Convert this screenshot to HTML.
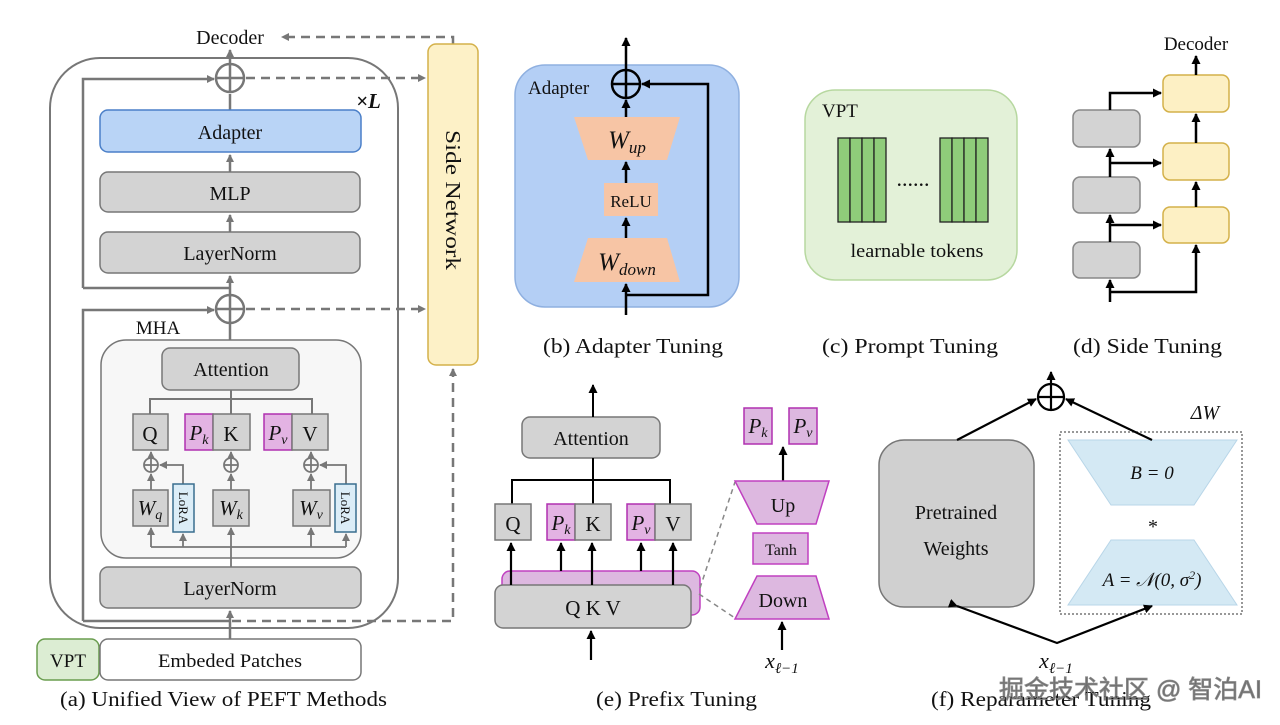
<!DOCTYPE html>
<html><head><meta charset="utf-8"><style>
html,body{margin:0;padding:0;background:#fff;}
svg{display:block;}
text{font-family:"Liberation Serif",serif;fill:#111;}
.i{font-style:italic;}
</style></head><body>
<svg width="1280" height="725" viewBox="0 0 1280 725" xmlns="http://www.w3.org/2000/svg">
<defs>
<marker id="ag" markerWidth="8" markerHeight="8" refX="7" refY="4" orient="auto" markerUnits="userSpaceOnUse"><path d="M0,0 L8,4 L0,8 z" fill="#777"/></marker>
<marker id="ab" markerWidth="9" markerHeight="9" refX="8" refY="4.5" orient="auto" markerUnits="userSpaceOnUse"><path d="M0,0 L9,4.5 L0,9 z" fill="#000"/></marker>
</defs>

<!-- ===== Panel (a) ===== -->
<g stroke="#777" stroke-width="2" fill="none">
<rect x="50" y="58" width="348" height="570" rx="50"/>
</g>
<text x="230" y="44" font-size="20" text-anchor="middle">Decoder</text>
<g stroke="#777" stroke-width="2.5" fill="none">
<line x1="230" y1="64" x2="230" y2="50" marker-end="url(#ag)"/>
<circle cx="230" cy="78" r="14"/><line x1="216" y1="78" x2="244" y2="78"/><line x1="230" y1="64" x2="230" y2="92"/>
<polyline points="83,288 83,79 214,79" marker-end="url(#ag)"/>
<polyline points="230,288 83,288"/>
<line x1="230" y1="110" x2="230" y2="94"/>
<line x1="230" y1="172" x2="230" y2="155" marker-end="url(#ag)"/>
<line x1="230" y1="232" x2="230" y2="215" marker-end="url(#ag)"/>
<line x1="230" y1="295" x2="230" y2="276" marker-end="url(#ag)"/>
<circle cx="230" cy="309" r="14"/><line x1="216" y1="309" x2="244" y2="309"/><line x1="230" y1="295" x2="230" y2="323"/>
<polyline points="83,621 83,310 214,310" marker-end="url(#ag)"/>
<polyline points="230,621 83,621"/>
<line x1="230" y1="340" x2="230" y2="323"/>
<line x1="230" y1="639" x2="230" y2="611" marker-end="url(#ag)"/>
</g>
<g stroke="#777" stroke-width="2.5" fill="none" stroke-dasharray="9,6">
<polyline points="453,44 453,37 282,37" marker-end="url(#ag)"/>
<line x1="246" y1="78" x2="425" y2="78" marker-end="url(#ag)"/>
<line x1="246" y1="309" x2="425" y2="309" marker-end="url(#ag)"/>
<polyline points="232,621 453,621 453,369" marker-end="url(#ag)"/>
</g>
<text x="356" y="108" font-size="21" font-weight="bold" class="i">×L</text>
<rect x="100" y="110" width="261" height="42" rx="8" fill="#b9d4f6" stroke="#4a7fc8" stroke-width="1.5"/>
<text x="230" y="139" font-size="20" text-anchor="middle">Adapter</text>
<rect x="100" y="172" width="260" height="40" rx="8" fill="#d3d3d3" stroke="#777" stroke-width="1.5"/>
<text x="230" y="200" font-size="20" text-anchor="middle">MLP</text>
<rect x="100" y="232" width="260" height="41" rx="8" fill="#d3d3d3" stroke="#777" stroke-width="1.5"/>
<text x="230" y="260" font-size="20" text-anchor="middle">LayerNorm</text>
<text x="158" y="334" font-size="19" text-anchor="middle">MHA</text>
<rect x="101" y="340" width="260" height="218" rx="25" fill="#f7f7f7" stroke="#777" stroke-width="1.5"/>
<rect x="162" y="348" width="137" height="42" rx="8" fill="#d3d3d3" stroke="#777" stroke-width="1.5"/>
<text x="231" y="376" font-size="20" text-anchor="middle">Attention</text>
<g stroke="#777" stroke-width="2" fill="none">
<line x1="231" y1="390" x2="231" y2="414"/>
<polyline points="150,414 150,399 312,399 312,414"/>
</g>
<g stroke="#777" stroke-width="1.5">
<rect x="133" y="414" width="35" height="36" fill="#d3d3d3"/>
<rect x="185" y="414" width="28" height="36" fill="#e3b3e3" stroke="#b030b0"/>
<rect x="213" y="414" width="37" height="36" fill="#d3d3d3"/>
<rect x="264" y="414" width="28" height="36" fill="#e3b3e3" stroke="#b030b0"/>
<rect x="292" y="414" width="36" height="36" fill="#d3d3d3"/>
</g>
<text x="150" y="441" font-size="21" text-anchor="middle">Q</text>
<text x="199" y="440" font-size="21" text-anchor="middle" class="i">P<tspan font-size="14" dy="4">k</tspan></text>
<text x="231" y="441" font-size="21" text-anchor="middle">K</text>
<text x="278" y="440" font-size="21" text-anchor="middle" class="i">P<tspan font-size="14" dy="4">v</tspan></text>
<text x="310" y="441" font-size="21" text-anchor="middle">V</text>
<g stroke="#777" stroke-width="1.8" fill="none">
<circle cx="151" cy="465" r="7"/><line x1="144" y1="465" x2="158" y2="465"/><line x1="151" y1="458" x2="151" y2="472"/>
<circle cx="231" cy="465" r="7"/><line x1="224" y1="465" x2="238" y2="465"/><line x1="231" y1="458" x2="231" y2="472"/>
<circle cx="311" cy="465" r="7"/><line x1="304" y1="465" x2="318" y2="465"/><line x1="311" y1="458" x2="311" y2="472"/>
<line x1="151" y1="458" x2="151" y2="452" marker-end="url(#ag)"/>
<line x1="231" y1="458" x2="231" y2="452" marker-end="url(#ag)"/>
<line x1="311" y1="458" x2="311" y2="452" marker-end="url(#ag)"/>
<line x1="151" y1="490" x2="151" y2="474" marker-end="url(#ag)"/>
<line x1="231" y1="490" x2="231" y2="474" marker-end="url(#ag)"/>
<line x1="311" y1="490" x2="311" y2="474" marker-end="url(#ag)"/>
<polyline points="183,484 183,465 160,465" marker-end="url(#ag)"/>
<polyline points="346,484 346,465 320,465" marker-end="url(#ag)"/>
<line x1="151" y1="547" x2="346" y2="547"/>
<line x1="231" y1="567" x2="231" y2="528" marker-end="url(#ag)"/>
<line x1="151" y1="547" x2="151" y2="528" marker-end="url(#ag)"/>
<line x1="183" y1="547" x2="183" y2="534" marker-end="url(#ag)"/>
<line x1="311" y1="547" x2="311" y2="528" marker-end="url(#ag)"/>
<line x1="346" y1="547" x2="346" y2="534" marker-end="url(#ag)"/>
</g>
<g stroke="#777" stroke-width="1.5">
<rect x="133" y="490" width="35" height="36" fill="#d3d3d3"/>
<rect x="213" y="490" width="36" height="36" fill="#d3d3d3"/>
<rect x="293" y="490" width="37" height="36" fill="#d3d3d3"/>
<rect x="173" y="484" width="21" height="48" fill="#dcedf7" stroke="#3a6f8f"/>
<rect x="335" y="484" width="21" height="48" fill="#dcedf7" stroke="#3a6f8f"/>
</g>
<text x="150" y="515" font-size="21" text-anchor="middle" class="i">W<tspan font-size="14" dy="4">q</tspan></text>
<text x="231" y="515" font-size="21" text-anchor="middle" class="i">W<tspan font-size="14" dy="4">k</tspan></text>
<text x="311" y="515" font-size="21" text-anchor="middle" class="i">W<tspan font-size="14" dy="4">v</tspan></text>
<text transform="translate(179,508) rotate(90)" font-size="13" text-anchor="middle">LoRA</text>
<text transform="translate(341,508) rotate(90)" font-size="13" text-anchor="middle">LoRA</text>
<rect x="100" y="567" width="261" height="41" rx="8" fill="#d3d3d3" stroke="#777" stroke-width="1.5"/>
<text x="230" y="595" font-size="20" text-anchor="middle">LayerNorm</text>
<rect x="37" y="639" width="62" height="41" rx="8" fill="#dcedd3" stroke="#6a9d4f" stroke-width="1.5"/>
<text x="68" y="667" font-size="19" text-anchor="middle">VPT</text>
<rect x="100" y="639" width="261" height="41" rx="8" fill="#fff" stroke="#777" stroke-width="1.5"/>
<text x="230" y="667" font-size="19" text-anchor="middle" textLength="144" lengthAdjust="spacingAndGlyphs">Embeded Patches</text>
<text x="60" y="706" font-size="21" textLength="327" lengthAdjust="spacingAndGlyphs">(a)  Unified View of PEFT Methods</text>

<!-- Side Network -->
<rect x="428" y="44" width="50" height="321" rx="8" fill="#fdf1c7" stroke="#d4b14a" stroke-width="1.5"/>
<text transform="translate(446,200) rotate(90)" font-size="21" text-anchor="middle" textLength="140" lengthAdjust="spacingAndGlyphs">Side Network</text>

<!-- ===== Panel (b) ===== -->
<rect x="515" y="65" width="224" height="242" rx="30" fill="#b4cff5" stroke="#8fb0e0" stroke-width="1.5"/>
<text x="528" y="94" font-size="19">Adapter</text>
<g stroke="#000" stroke-width="2.5" fill="none">
<line x1="626" y1="70" x2="626" y2="38" marker-end="url(#ab)"/>
<circle cx="626" cy="84" r="14"/><line x1="612" y1="84" x2="640" y2="84"/><line x1="626" y1="70" x2="626" y2="98"/>
<line x1="626" y1="117" x2="626" y2="100" marker-end="url(#ab)"/>
<line x1="626" y1="183" x2="626" y2="162" marker-end="url(#ab)"/>
<line x1="626" y1="238" x2="626" y2="218" marker-end="url(#ab)"/>
<line x1="626" y1="315" x2="626" y2="284" marker-end="url(#ab)"/>
<polyline points="626,295 708,295 708,84 642,84" marker-end="url(#ab)"/>
</g>
<polygon points="574,117 680,117 667,160 588,160" fill="#f7c5a5"/>
<rect x="604" y="183" width="54" height="33" fill="#f7c5a5"/>
<polygon points="588,238 667,238 680,282 574,282" fill="#f7c5a5"/>
<text x="627" y="148" font-size="25" text-anchor="middle" class="i">W<tspan font-size="17" dy="5">up</tspan></text>
<text x="631" y="207" font-size="17" text-anchor="middle">ReLU</text>
<text x="627" y="270" font-size="25" text-anchor="middle" class="i">W<tspan font-size="17" dy="5">down</tspan></text>
<text x="543" y="353" font-size="21" textLength="180" lengthAdjust="spacingAndGlyphs">(b)  Adapter Tuning</text>

<!-- ===== Panel (c) ===== -->
<rect x="805" y="90" width="212" height="190" rx="30" fill="#e3f1d8" stroke="#b7d8a0" stroke-width="1.5"/>
<text x="822" y="117" font-size="19">VPT</text>
<g fill="#8fcc7a" stroke="#222" stroke-width="1.3">
<rect x="838" y="138" width="12" height="84"/><rect x="850" y="138" width="12" height="84"/><rect x="862" y="138" width="12" height="84"/><rect x="874" y="138" width="12" height="84"/>
<rect x="940" y="138" width="12" height="84"/><rect x="952" y="138" width="12" height="84"/><rect x="964" y="138" width="12" height="84"/><rect x="976" y="138" width="12" height="84"/>
</g>
<text x="913" y="186" font-size="22" text-anchor="middle">......</text>
<text x="917" y="257" font-size="19" text-anchor="middle" textLength="133" lengthAdjust="spacingAndGlyphs">learnable tokens</text>
<text x="822" y="353" font-size="21" textLength="176" lengthAdjust="spacingAndGlyphs">(c)  Prompt Tuning</text>

<!-- ===== Panel (d) ===== -->
<text x="1196" y="50" font-size="19" text-anchor="middle">Decoder</text>
<g fill="#d3d3d3" stroke="#888" stroke-width="1.5">
<rect x="1073" y="110" width="67" height="37" rx="7"/>
<rect x="1073" y="177" width="67" height="36" rx="7"/>
<rect x="1073" y="242" width="67" height="36" rx="7"/>
</g>
<g fill="#fdf0c4" stroke="#d4b14a" stroke-width="1.5">
<rect x="1163" y="75" width="66" height="37" rx="7"/>
<rect x="1163" y="143" width="66" height="37" rx="7"/>
<rect x="1163" y="207" width="66" height="36" rx="7"/>
</g>
<g stroke="#000" stroke-width="2.5" fill="none">
<line x1="1196" y1="75" x2="1196" y2="56" marker-end="url(#ab)"/>
<line x1="1196" y1="143" x2="1196" y2="114" marker-end="url(#ab)"/>
<line x1="1196" y1="207" x2="1196" y2="182" marker-end="url(#ab)"/>
<polyline points="1110,110 1110,93 1161,93" marker-end="url(#ab)"/>
<line x1="1110" y1="177" x2="1110" y2="149" marker-end="url(#ab)"/>
<polyline points="1110,163 1161,163" marker-end="url(#ab)"/>
<line x1="1110" y1="242" x2="1110" y2="215" marker-end="url(#ab)"/>
<polyline points="1110,225 1161,225" marker-end="url(#ab)"/>
<line x1="1110" y1="302" x2="1110" y2="280" marker-end="url(#ab)"/>
<polyline points="1110,292 1196,292 1196,245" marker-end="url(#ab)"/>
</g>
<text x="1073" y="353" font-size="21" textLength="149" lengthAdjust="spacingAndGlyphs">(d)  Side Tuning</text>

<!-- ===== Panel (e) ===== -->
<rect x="522" y="417" width="138" height="41" rx="8" fill="#d3d3d3" stroke="#777" stroke-width="1.5"/>
<text x="591" y="445" font-size="20" text-anchor="middle">Attention</text>
<g stroke="#000" stroke-width="2" fill="none">
<line x1="593" y1="417" x2="593" y2="385" marker-end="url(#ab)"/>
<line x1="593" y1="458" x2="593" y2="504"/>
<polyline points="512,504 512,480 670,480 670,504"/>
</g>
<rect x="502" y="571" width="198" height="44" rx="8" fill="#ddb8e0" stroke="#c040c0" stroke-width="1.5"/>
<rect x="495" y="585" width="196" height="43" rx="8" fill="#d3d3d3" stroke="#777" stroke-width="1.5"/>
<text x="593" y="615" font-size="21" text-anchor="middle">Q  K  V</text>
<g stroke="#777" stroke-width="1.5">
<rect x="495" y="504" width="36" height="36" fill="#d3d3d3"/>
<rect x="547" y="504" width="28" height="36" fill="#e3b3e3" stroke="#b030b0"/>
<rect x="575" y="504" width="36" height="36" fill="#d3d3d3"/>
<rect x="627" y="504" width="28" height="36" fill="#e3b3e3" stroke="#b030b0"/>
<rect x="655" y="504" width="36" height="36" fill="#d3d3d3"/>
</g>
<text x="513" y="531" font-size="21" text-anchor="middle">Q</text>
<text x="561" y="530" font-size="21" text-anchor="middle" class="i">P<tspan font-size="14" dy="4">k</tspan></text>
<text x="593" y="531" font-size="21" text-anchor="middle">K</text>
<text x="641" y="530" font-size="21" text-anchor="middle" class="i">P<tspan font-size="14" dy="4">v</tspan></text>
<text x="673" y="531" font-size="21" text-anchor="middle">V</text>
<g stroke="#000" stroke-width="2.2" fill="none">
<line x1="511" y1="585" x2="511" y2="543" marker-end="url(#ab)"/>
<line x1="561" y1="571" x2="561" y2="543" marker-end="url(#ab)"/>
<line x1="592" y1="585" x2="592" y2="543" marker-end="url(#ab)"/>
<line x1="641" y1="571" x2="641" y2="543" marker-end="url(#ab)"/>
<line x1="673" y1="585" x2="673" y2="543" marker-end="url(#ab)"/>
<line x1="591" y1="660" x2="591" y2="631" marker-end="url(#ab)"/>
<line x1="783" y1="481" x2="783" y2="447" marker-end="url(#ab)"/>
<line x1="782" y1="650" x2="782" y2="622" marker-end="url(#ab)"/>
</g>
<g stroke="#888" stroke-width="1.5" stroke-dasharray="5,4">
<line x1="700" y1="588" x2="735" y2="482"/>
<line x1="699" y1="594" x2="735" y2="618"/>
</g>
<g fill="#ddb8e0" stroke="#c040c0" stroke-width="1.5">
<polygon points="735,481 829,481 816,524 757,524"/>
<rect x="753" y="533" width="55" height="31"/>
<polygon points="757,576 816,576 829,619 735,619"/>
<rect x="744" y="408" width="28" height="36" stroke="#b030b0"/>
<rect x="789" y="408" width="28" height="36" stroke="#b030b0"/>
</g>
<text x="783" y="512" font-size="20" text-anchor="middle">Up</text>
<text x="781" y="555" font-size="16" text-anchor="middle">Tanh</text>
<text x="783" y="607" font-size="20" text-anchor="middle">Down</text>
<text x="758" y="433" font-size="21" text-anchor="middle" class="i">P<tspan font-size="14" dy="4">k</tspan></text>
<text x="803" y="433" font-size="21" text-anchor="middle" class="i">P<tspan font-size="14" dy="4">v</tspan></text>
<text x="782" y="668" font-size="22" text-anchor="middle" class="i">x<tspan font-size="15" dy="5">ℓ−1</tspan></text>
<text x="596" y="706" font-size="21" textLength="161" lengthAdjust="spacingAndGlyphs">(e)  Prefix Tuning</text>

<!-- ===== Panel (f) ===== -->
<rect x="879" y="440" width="155" height="167" rx="25" fill="#d0d0d0" stroke="#777" stroke-width="1.5"/>
<text x="956" y="519" font-size="20" text-anchor="middle">Pretrained</text>
<text x="956" y="555" font-size="20" text-anchor="middle">Weights</text>
<rect x="1060" y="432" width="182" height="182" fill="none" stroke="#777" stroke-width="1.5" stroke-dasharray="2,2"/>
<polygon points="1068,440 1237,440 1194,505 1111,505" fill="#d4e9f4" stroke="#b8d6e8"/>
<polygon points="1111,540 1194,540 1237,605 1068,605" fill="#d4e9f4" stroke="#b8d6e8"/>
<text x="1152" y="479" font-size="19" text-anchor="middle" class="i">B = 0</text>
<text x="1153" y="533" font-size="20" text-anchor="middle">*</text>
<text x="1152" y="586" font-size="19" text-anchor="middle" class="i">A = 𝒩(0, σ<tspan font-size="12" dy="-7">2</tspan><tspan dy="7">)</tspan></text>
<text x="1205" y="419" font-size="20" text-anchor="middle" class="i">ΔW</text>
<g stroke="#000" stroke-width="2.2" fill="none">
<circle cx="1051" cy="397" r="13"/><line x1="1038" y1="397" x2="1064" y2="397"/><line x1="1051" y1="384" x2="1051" y2="410"/>
<line x1="1051" y1="384" x2="1051" y2="372" marker-end="url(#ab)"/>
<line x1="957" y1="440" x2="1036" y2="399" marker-end="url(#ab)"/>
<line x1="1152" y1="440" x2="1066" y2="399" marker-end="url(#ab)"/>
<polyline points="957,606 1057,643 1152,606" marker-start="url(#ab)" marker-end="url(#ab)"/>
</g>
<text x="1056" y="668" font-size="22" text-anchor="middle" class="i">x<tspan font-size="15" dy="5">ℓ−1</tspan></text>
<text x="931" y="706" font-size="21" textLength="220" lengthAdjust="spacingAndGlyphs">(f)  Reparameter Tuning</text>
<text x="999" y="698" font-size="25" fill="#ffffff" fill-opacity="0.6" stroke="#8a8a8a" stroke-width="0.8" style='font-family:"Liberation Sans","Noto Sans CJK SC",sans-serif'>掘金技术社区 @ 智泊AI</text>
</svg>
</body></html>
